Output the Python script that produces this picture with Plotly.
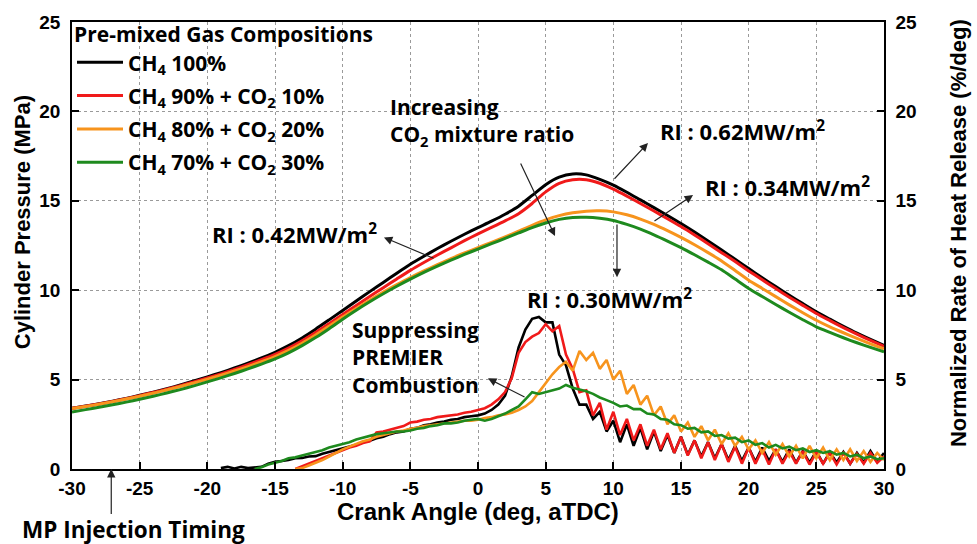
import plotly.graph_objects as go

# ---------------- data ----------------
crank_angle_p = list(range(-30, 31))          # deg aTDC, 1 deg step (pressure)
crank_angle_hrr = [i * 0.5 for i in range(-40, 61)]  # -20 .. 30 deg, 0.5 deg step (heat release)

x_tick_vals = [-30, -25, -20, -15, -10, -5, 0, 5, 10, 15, 20, 25, 30]
x_tick_text = ["-30", "-25", "-20", "-15", "-10", "-5", "0", "5", "10", "15", "20", "25", "30"]
y_tick_vals = [0, 5, 10, 15, 20, 25]

labels = ["CH<sub>4</sub> 100%",
          "CH<sub>4</sub> 90% + CO<sub>2</sub> 10%",
          "CH<sub>4</sub> 80% + CO<sub>2</sub> 20%",
          "CH<sub>4</sub> 70% + CO<sub>2</sub> 30%"]
colors = ["#000000", "#f01a1a", "#f7941d", "#1e8a1e"]

# Cylinder pressure (MPa)
p_ch4_100 = [3.40, 3.52, 3.65, 3.79, 3.95, 4.12, 4.30, 4.49, 4.70, 4.92,
             5.15, 5.39, 5.65, 5.92, 6.21, 6.53, 6.90, 7.33, 7.82, 8.34,
             8.87, 9.40, 9.92, 10.43, 10.95, 11.45, 11.90, 12.33, 12.74, 13.13,
             13.50, 13.86, 14.25, 14.70, 15.30, 15.90, 16.32, 16.50, 16.45, 16.20,
             15.88, 15.48, 15.05, 14.62, 14.18, 13.73, 13.25, 12.75, 12.25, 11.73,
             11.21, 10.70, 10.20, 9.72, 9.25, 8.79, 8.38, 7.98, 7.60, 7.25, 6.92]
p_ch4_90 = [3.39, 3.51, 3.64, 3.78, 3.93, 4.10, 4.28, 4.46, 4.66, 4.87,
            5.09, 5.32, 5.57, 5.83, 6.11, 6.41, 6.76, 7.17, 7.63, 8.13,
            8.64, 9.15, 9.65, 10.14, 10.63, 11.11, 11.55, 11.97, 12.37, 12.77,
            13.15, 13.51, 13.88, 14.28, 14.85, 15.50, 15.98, 16.18, 16.18, 15.98,
            15.65, 15.26, 14.85, 14.43, 14.00, 13.56, 13.09, 12.60, 12.10, 11.60,
            11.08, 10.58, 10.09, 9.61, 9.15, 8.70, 8.30, 7.91, 7.54, 7.19, 6.86]
p_ch4_80 = [3.38, 3.50, 3.62, 3.76, 3.91, 4.07, 4.24, 4.42, 4.61, 4.81,
            5.02, 5.24, 5.48, 5.73, 6.00, 6.29, 6.63, 7.03, 7.49, 7.99,
            8.50, 8.98, 9.44, 9.89, 10.31, 10.71, 11.08, 11.43, 11.77, 12.08,
            12.38, 12.68, 12.98, 13.30, 13.63, 13.93, 14.17, 14.33, 14.42, 14.44,
            14.38, 14.22, 13.98, 13.68, 13.33, 12.95, 12.54, 12.10, 11.64, 11.10,
            10.56, 10.10, 9.64, 9.18, 8.74, 8.32, 7.95, 7.62, 7.30, 7.00, 6.72]
p_ch4_70 = [3.19, 3.32, 3.45, 3.59, 3.74, 3.90, 4.07, 4.25, 4.44, 4.65,
            4.87, 5.10, 5.34, 5.60, 5.87, 6.16, 6.50, 6.90, 7.35, 7.85,
            8.38, 8.88, 9.35, 9.80, 10.22, 10.62, 11.00, 11.35, 11.68, 12.00,
            12.30, 12.60, 12.90, 13.20, 13.50, 13.76, 13.96, 14.07, 14.08, 14.02,
            13.90, 13.68, 13.42, 13.10, 12.75, 12.38, 11.98, 11.57, 11.14, 10.62,
            10.10, 9.65, 9.20, 8.77, 8.35, 7.95, 7.64, 7.34, 7.06, 6.80, 6.55]

# Normalized rate of heat release (%/deg)
N = None
hrr_ch4_100 = [N, N, 0.05, 0.12, 0.03, 0.12, 0.05, 0.10, 0.12, 0.30,
               0.40, 0.45, 0.50, 0.60, 0.62, 0.70, 0.72, 0.85, 0.95, 1.05,
               1.13, 1.25, 1.35, 1.50, 1.58, 1.72, 1.80, 1.95, 2.05, 2.10,
               2.25, 2.30, 2.45, 2.50, 2.60, 2.65, 2.75, 2.80, 2.90, 2.95,
               3.00, 3.10, 3.30, 3.60, 4.10, 5.20, 6.80, 7.80, 8.40, 8.50,
               8.20, 8.20, 6.40, 5.80, 4.50, 3.60, 3.60, 2.80, 3.20, 2.10,
               2.70, 1.50, 2.50, 1.30, 2.30, 1.10, 2.10, 1.00, 1.90, 0.90,
               1.80, 0.80, 1.60, 0.70, 1.50, 0.60, 1.40, 0.50, 1.30, 0.45,
               1.20, 0.40, 1.20, 0.45, 1.10, 0.40, 1.10, 0.35, 1.00, 0.35,
               1.00, 0.30, 0.95, 0.35, 0.95, 0.30, 0.90, 0.35, 1.00, 0.40, 0.90]
hrr_ch4_90 = [N, N, N, N, N, N, N, N, N, N,
              N, N, N, 0.00, 0.15, 0.30, 0.45, 0.60, 0.75, 0.90,
              1.05, 1.20, 1.30, 1.45, 1.55, 2.05, 2.10, 2.20, 2.30, 2.40,
              2.60, 2.65, 2.75, 2.80, 2.90, 2.95, 3.00, 3.05, 3.15, 3.20,
              3.30, 3.40, 3.60, 3.90, 4.30, 5.10, 6.50, 7.10, 7.40, 7.60,
              8.10, 7.70, 8.00, 6.40, 5.60, 4.30, 4.40, 3.00, 3.70, 2.20,
              3.20, 1.90, 2.80, 1.60, 2.50, 1.30, 2.20, 1.10, 2.00, 0.90,
              1.80, 0.75, 1.60, 0.60, 1.50, 0.50, 1.40, 0.40, 1.25, 0.30,
              1.20, 0.30, 1.10, 0.25, 1.10, 0.30, 1.00, 0.30, 1.00, 0.25,
              0.95, 0.30, 0.90, 0.25, 0.90, 0.30, 0.85, 0.30, 0.90, 0.35, 0.70]
hrr_ch4_80 = [N, N, N, N, N, N, N, N, N, N,
              N, N, N, 0.00, 0.05, 0.20, 0.35, 0.50, 0.70, 0.90,
              1.10, 1.25, 1.40, 1.55, 1.65, 1.80, 1.90, 2.00, 2.10, 2.15,
              2.25, 2.30, 2.40, 2.45, 2.50, 2.55, 2.60, 2.65, 2.70, 2.70,
              2.75, 2.85, 2.90, 3.00, 3.05, 3.15, 3.30, 3.50, 3.80, 4.30,
              4.80, 5.30, 5.70, 6.00, 5.50, 6.60, 6.10, 6.50, 5.60, 6.10,
              5.00, 5.50, 4.20, 4.70, 3.60, 4.10, 3.00, 3.50, 2.50, 3.00,
              2.10, 2.60, 1.80, 2.40, 1.60, 2.20, 1.40, 2.00, 1.30, 1.80,
              1.10, 1.60, 0.90, 1.50, 0.80, 1.40, 0.70, 1.30, 0.60, 1.30,
              0.60, 1.20, 0.50, 1.10, 0.50, 1.10, 0.45, 1.00, 0.40, 0.90, 0.50]
hrr_ch4_70 = [N, N, N, N, N, N, N, 0.00, 0.10, 0.25,
              0.35, 0.45, 0.60, 0.65, 0.75, 0.85, 0.95, 1.05, 1.20, 1.30,
              1.43, 1.50, 1.65, 1.75, 1.85, 1.95, 2.00, 2.05, 2.10, 2.10,
              2.15, 2.25, 2.30, 2.40, 2.45, 2.55, 2.55, 2.60, 2.70, 2.75,
              2.80, 2.70, 2.80, 2.95, 3.10, 3.30, 3.50, 3.90, 4.30, 4.20,
              4.30, 4.40, 4.50, 4.70, 4.55, 4.45, 4.35, 4.20, 4.00, 3.85,
              3.70, 3.50, 3.55, 3.35, 3.35, 3.10, 3.05, 2.80, 2.75, 2.50,
              2.45, 2.25, 2.30, 2.05, 2.10, 1.85, 1.90, 1.70, 1.75, 1.50,
              1.60, 1.35, 1.45, 1.20, 1.35, 1.15, 1.25, 1.05, 1.15, 0.95,
              1.05, 0.90, 1.00, 0.80, 0.90, 0.70, 0.80, 0.60, 0.70, 0.55, 0.60]

pressures = [p_ch4_100, p_ch4_90, p_ch4_80, p_ch4_70]
hrrs = [hrr_ch4_100, hrr_ch4_90, hrr_ch4_80, hrr_ch4_70]

# ---------------- figure ----------------
fig = go.Figure()
for i in range(4):
    fig.add_trace(go.Scatter(x=crank_angle_p, y=pressures[i], mode="lines", name=labels[i],
                             line=dict(color=colors[i], width=3, shape="spline", smoothing=0.6),
                             legendgroup=f"g{i}", showlegend=True, yaxis="y"))
for i in range(4):
    fig.add_trace(go.Scatter(x=crank_angle_hrr, y=hrrs[i], mode="lines", name=labels[i],
                             line=dict(color=colors[i], width=2.6),
                             legendgroup=f"g{i}", showlegend=False, yaxis="y2"))

tick_font = dict(family="Liberation Sans", size=19, color="black", weight="bold")
ann_font = dict(family="Open Sans", size=21, color="black", weight="bold")
title_font = dict(family="Liberation Sans", size=22, color="black", weight="bold")
axis_common = dict(showline=True, linecolor="black", linewidth=1.5,
                   ticks="inside", ticklen=7, tickwidth=1.5, tickcolor="black",
                   zeroline=False, tickfont=tick_font)

fig.update_layout(
    width=977, height=544,
    margin=dict(l=72, r=93, t=22, b=75),
    paper_bgcolor="white", plot_bgcolor="white",
    xaxis=dict(range=[-30, 30], tickmode="array", tickvals=x_tick_vals, ticktext=x_tick_text,
               mirror=True, showgrid=True, gridcolor="#9a9a9a", griddash="dot", gridwidth=1,
               ticklabelstandoff=1, **axis_common),
    yaxis=dict(range=[0, 25], tickmode="array", tickvals=y_tick_vals, mirror=True,
               showgrid=True, gridcolor="#9a9a9a", griddash="dot", gridwidth=1,
               ticklabelstandoff=6, **axis_common),
    yaxis2=dict(range=[0, 25], tickmode="array", tickvals=y_tick_vals, overlaying="y", side="right",
                showgrid=False, ticklabelstandoff=6, **axis_common),
    legend=dict(x=0.0, y=1.016, xanchor="left", yanchor="top",
                bgcolor="rgba(0,0,0,0)", borderwidth=0,
                font=dict(family="Open Sans", size=21, color="black", weight="bold"),
                title=dict(text="Pre-mixed Gas Compositions",
                           font=dict(family="Open Sans", size=21, color="black", weight="bold")),
                tracegroupgap=3, itemwidth=46),
    showlegend=True,
)

# axis titles
fig.add_annotation(xref="paper", yref="paper", x=0.5, y=-0.0949, text="Crank Angle (deg, aTDC)",
                   showarrow=False, xanchor="center", yanchor="middle",
                   font=dict(title_font, size=24))
fig.add_annotation(xref="paper", yref="paper", x=-0.0616, y=0.552, text="Cylinder Pressure (MPa)",
                   textangle=-90, showarrow=False, xanchor="center", yanchor="middle",
                   font=title_font)
fig.add_annotation(xref="paper", yref="paper", x=1.091, y=0.5275,
                   text="Normalized Rate of Heat Release (%/deg)",
                   textangle=-90, showarrow=False, xanchor="center", yanchor="middle",
                   font=title_font)

# text annotations (data coordinates)
texts = [
    (-6.65, 19.43, "Increasing<br>CO<sub>2</sub> mixture ratio", 21),
    (13.30, 18.96, "RI : 0.62MW/m<sup>2</sup>", 22),
    (16.63, 15.82, "RI : 0.34MW/m<sup>2</sup>", 22),
    (3.47, 9.55, "RI : 0.30MW/m<sup>2</sup>", 22),
    (-19.81, 13.19, "RI : 0.42MW/m<sup>2</sup>", 22),
    (-9.46, 6.22, "Suppressing<br>PREMIER<br>Combustion", 21),
]
for x, y, t, s in texts:
    f = dict(ann_font)
    f["size"] = s
    fig.add_annotation(x=x, y=y, xref="x", yref="y", text=t, showarrow=False,
                       xanchor="left", yanchor="middle", align="left", font=f)

# label below the axis (paper coordinates)
fig.add_annotation(xref="paper", yref="paper", x=-0.064, y=-0.1352, text="MP Injection Timing",
                   showarrow=False, xanchor="left", yanchor="middle",
                   font=dict(family="Open Sans", size=22.5, color="black", weight="bold"))

# arrows: (head x, head y, tail x, tail y)
arrows = [
    (5.69, 13.03, 3.10, 17.17),
    (12.56, 18.23, 9.98, 16.15),
    (15.89, 15.32, 12.93, 13.81),
    (10.27, 10.73, 10.27, 13.76),
    (-6.95, 12.95, -3.18, 11.75),
    (0.74, 5.07, 3.55, 3.98),
    (-27.1, 0.0, -27.1, -2.6),
]
for hx, hy, tx, ty in arrows:
    fig.add_annotation(x=hx, y=hy, ax=tx, ay=ty, xref="x", yref="y", axref="x", ayref="y",
                       text="", showarrow=True, arrowhead=2, arrowsize=1.4, arrowwidth=1.2,
                       arrowcolor="#222222")

fig.write_html("out.html")
